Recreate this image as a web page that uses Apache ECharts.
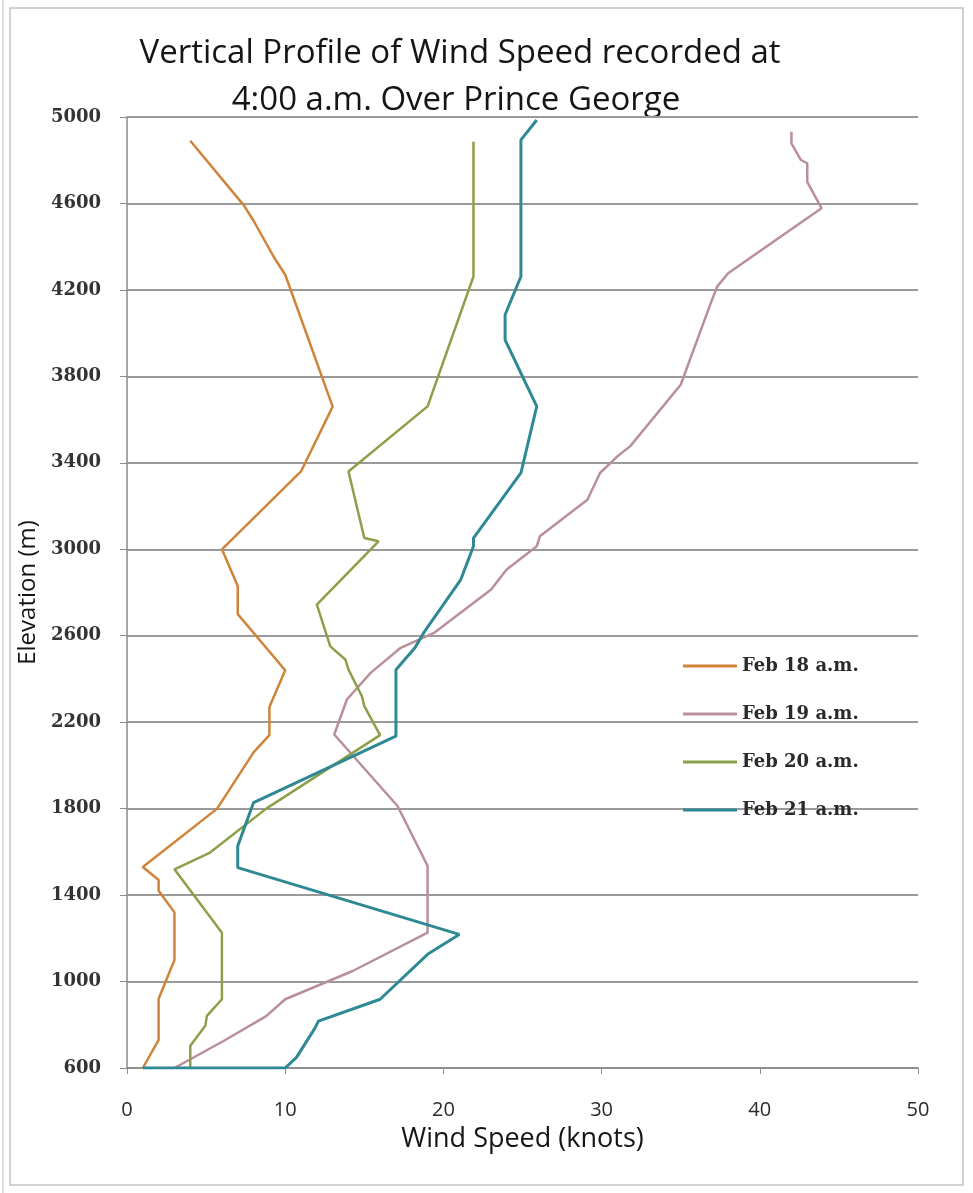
<!DOCTYPE html>
<html>
<head>
<meta charset="utf-8">
<title>Vertical Profile of Wind Speed</title>
<script src="https://cdn.jsdelivr.net/npm/echarts@6/dist/echarts.min.js"></script>
<style>
  html, body { margin: 0; padding: 0; background: #ffffff; }
  #chart { width: 973px; height: 1193px; }
</style>
</head>
<body>
<div id="chart"></div>
<script>
// Wind speed (knots) paired with elevation (m), listed from the ground upward.
const feb18 = [[1,600],[2,730],[2,920],[3,1100],[3,1320],[2,1420],[2,1470],[1,1530],[5.7,1800],[8,2060],[9,2140],[9,2270],[10,2440],[7,2700],[7,2830],[6,3000],[11,3360],[13,3660],[10.3,4210],[10,4270],[9.3,4350],[8,4520],[7.4,4590],[4,4890]];
const feb19 = [[3,600],[6.1,725],[8.8,840],[10,918],[14.3,1050],[19,1226],[19,1535],[17.1,1812],[13.1,2143],[13.9,2305],[15.4,2428],[17.3,2544],[19.4,2613],[23,2813],[24,2906],[25.9,3014],[26.1,3060],[29.1,3229],[29.9,3353],[31,3430],[31.8,3476],[35,3761],[36.9,4139],[37.3,4215],[38,4277],[43.9,4578],[43,4700],[43,4786],[42.6,4801],[42,4878],[42,4932]];
const feb20 = [[4,600],[4,703],[4.95,795],[5.05,841],[6,918],[6,1226],[3,1519],[5.25,1597],[8.8,1800],[16,2140],[15,2274],[14.85,2320],[14,2443],[13.8,2490],[12.85,2551],[12,2744],[15.9,3037],[15,3052],[14,3360],[19,3661],[21.9,4262],[21.9,4886]];
const feb21 = [[1,600],[10,600],[10.7,648],[11.9,787],[12.1,817],[16,918],[19,1126],[21,1218],[7,1527],[7,1627],[8,1828],[17,2135],[17,2443],[18.2,2544],[18.75,2613],[21.1,2860],[21.9,3014],[21.9,3052],[24.9,3353],[25.9,3661],[23.9,3969],[23.9,4085],[24.9,4262],[24.9,4894],[25.9,4986]];

const seriesNames = ['Feb 18 a.m.', 'Feb 19 a.m.', 'Feb 20 a.m.', 'Feb 21 a.m.'];
const seriesData = [feb18, feb19, feb20, feb21];
const seriesColors = ['#d0843a', '#b98f99', '#8c9f4a', '#2f8994'];
const seriesWidths = [2.5, 2.5, 2.5, 3];

const titleLines = ['Vertical Profile of Wind Speed recorded at', '4:00 a.m. Over Prince George'];

const sans = '"Open Sans", sans-serif';
const serifBold = '"DejaVu Serif", serif';

const chart = echarts.init(document.getElementById('chart'), null, { renderer: 'canvas' });

chart.setOption({
  backgroundColor: '#ffffff',
  animation: false,
  graphic: [
    { type: 'rect', shape: { x: 10, y: 8, width: 953, height: 1177 },
      style: { fill: 'none', stroke: '#c4c4c4', lineWidth: 1.5 }, silent: true },
    { type: 'line', shape: { x1: 3, y1: 0, x2: 3, y2: 1193 },
      style: { stroke: '#d0d0d0', lineWidth: 1.5 }, silent: true },
    { type: 'text', x: 460, y: 54,
      style: { text: titleLines[0], textAlign: 'center', textVerticalAlign: 'middle',
               font: '33px ' + sans, fill: '#151515' } },
    { type: 'text', x: 456, y: 101,
      style: { text: titleLines[1], textAlign: 'center', textVerticalAlign: 'middle',
               font: '33px ' + sans, fill: '#151515' } }
  ],
  grid: { left: 127, right: 55, top: 117, bottom: 125, containLabel: false },
  legend: {
    data: seriesNames,
    orient: 'vertical',
    left: 683,
    top: 657,
    padding: 0,
    itemWidth: 54,
    itemHeight: 3,
    itemGap: 30,
    icon: 'rect',
    textStyle: { fontFamily: serifBold, fontWeight: 'bold', fontSize: 18, color: '#2a2a2a', lineHeight: 16 }
  },
  xAxis: {
    type: 'value',
    min: 0,
    max: 50,
    interval: 10,
    name: 'Wind Speed (knots)',
    nameLocation: 'middle',
    nameGap: 58,
    nameTextStyle: { fontFamily: sans, fontSize: 27, color: '#151515' },
    axisLine: { show: true, onZero: false, lineStyle: { color: '#8c8c8c', width: 1.5 } },
    axisTick: { show: true, inside: false, length: 6, lineStyle: { color: '#8c8c8c' } },
    axisLabel: { margin: 32, fontFamily: sans, fontSize: 20, color: '#2a2a2a' },
    splitLine: { show: false }
  },
  yAxis: {
    type: 'value',
    min: 600,
    max: 5000,
    interval: 400,
    name: 'Elevation (m)',
    nameLocation: 'middle',
    nameGap: 76,
    nameRotate: 90,
    nameTextStyle: { fontFamily: sans, fontSize: 24, color: '#151515' },
    axisLine: { show: true, lineStyle: { color: '#8c8c8c', width: 1.5 } },
    axisTick: { show: true, inside: false, length: 7, lineStyle: { color: '#8c8c8c' } },
    axisLabel: { margin: 26, fontFamily: serifBold, fontWeight: 'bold', fontSize: 18, color: '#333333',
                 formatter: (v) => String(v) },
    splitLine: { show: true, lineStyle: { color: '#9a9a9a', width: 2 } }
  },
  series: seriesNames.map((name, i) => ({
    name: name,
    type: 'line',
    data: seriesData[i],
    showSymbol: false,
    symbol: 'none',
    clip: true,
    lineStyle: { color: seriesColors[i], width: seriesWidths[i] },
    itemStyle: { color: seriesColors[i] },
    emphasis: { disabled: true }
  }))
});
</script>
</body>
</html>
